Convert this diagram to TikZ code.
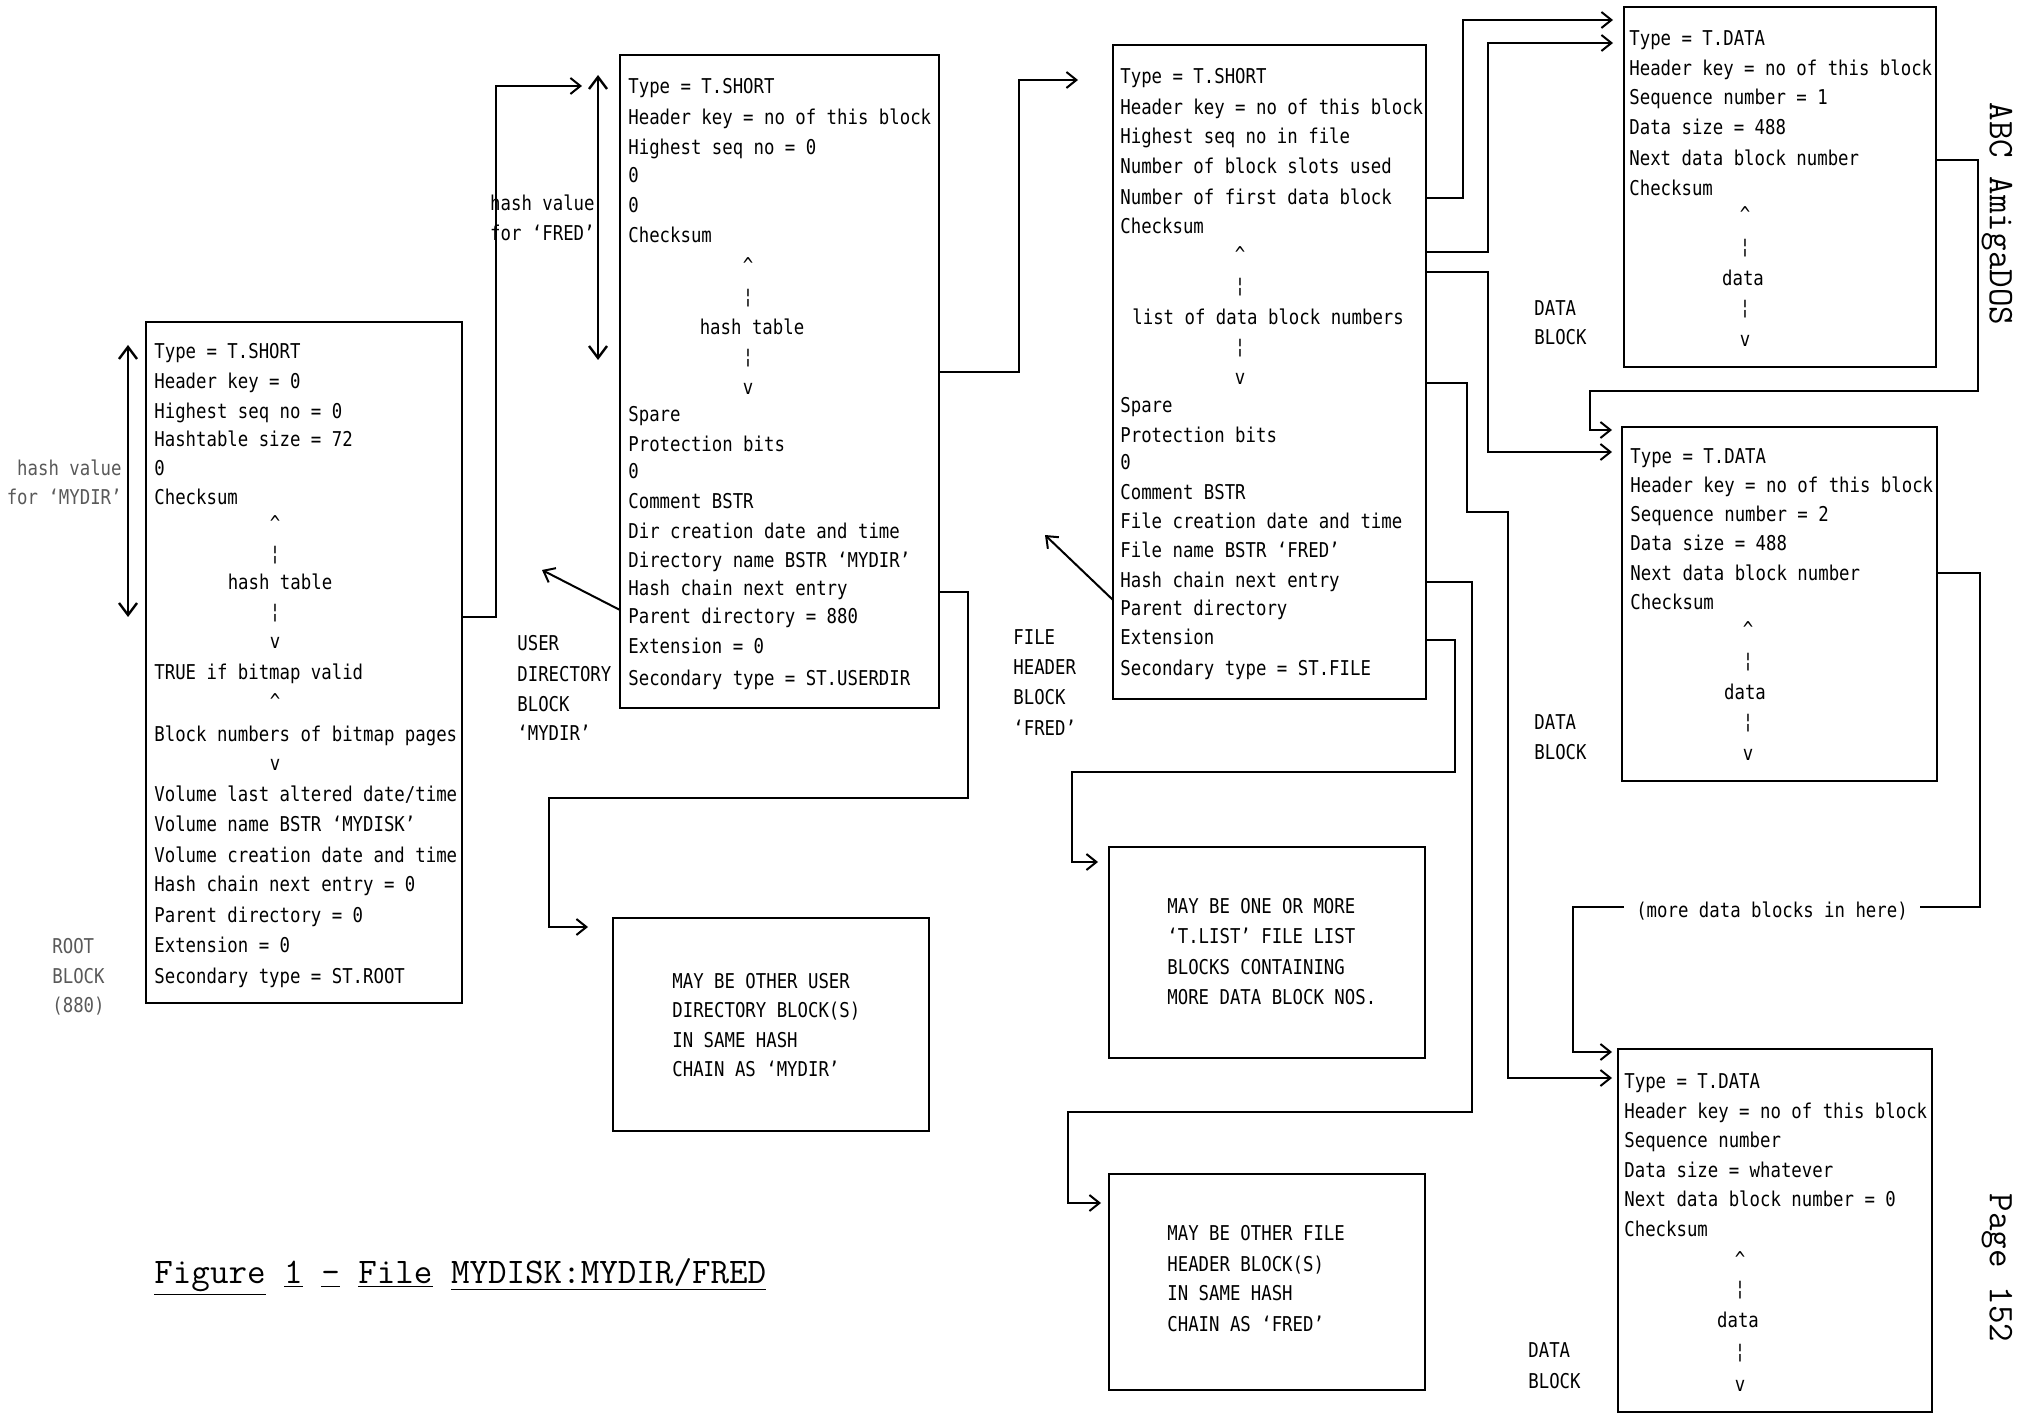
\documentclass[tikz,border=0pt]{standalone}
\usepackage{fontspec}
\usetikzlibrary{arrows.meta,calc}
\newfontfamily\dmfam[FakeStretch=0.85]{DejaVu Sans Mono}
\newcommand\dmf{\dmfam\fontsize{10.2}{12}\selectfont}
\newcommand\capf{\ttfamily\fontsize{18}{20}\selectfont}
\newcommand\Lrow[4]{\node[txt] (#1) at (#2,#3) {#4};}
\newcommand\Crow[4]{\node[ctxt] (#1) at (#2,#3) {#4};}
\newcommand\Up{\textasciicircum}
\tikzset{
  blk/.style={draw, line width=1.2pt, inner sep=0pt, outer sep=0pt, anchor=north west},
  txt/.style={font=\dmf, anchor=west, inner sep=0pt, text height=7.5pt, text depth=0pt},
  ctxt/.style={font=\dmf, anchor=center, inner sep=0pt, text height=7.5pt, text depth=0pt},
  rtxt/.style={font=\dmf, anchor=east, inner sep=0pt, text height=7.5pt, text depth=0pt},
  faded/.style={text=black!65},
  conn/.style={line width=1pt},
  arr/.style={line width=1pt, -{Straight Barb[length=5pt,width=8pt]}},
  darr/.style={line width=1.2pt, {Straight Barb[length=6pt,width=9pt]}-{Straight Barb[length=6pt,width=9pt]}},
}
\begin{document}
\begin{tikzpicture}[x=0.5pt,y=-0.5pt]
\useasboundingbox (0,0) rectangle (2018,1416);
\fill[white] (0,0) rectangle (2018,1416);

% ---------------- boxes
\node[blk, minimum width=158pt, minimum height=340.5pt] (root) at (146,322) {};
\node[blk, minimum width=159.5pt, minimum height=326.5pt] (user) at (620,55) {};
\node[blk, minimum width=156.5pt, minimum height=327pt] (fh) at (1113,45) {};
\node[blk, minimum width=156pt, minimum height=180pt] (db1) at (1624,7) {};
\node[blk, minimum width=157.5pt, minimum height=177pt] (db2) at (1622,427) {};
\node[blk, minimum width=157pt, minimum height=181.5pt] (db3) at (1618,1049) {};
\node[blk, minimum width=158pt, minimum height=106.5pt] (ouser) at (613,918) {};
\node[blk, minimum width=158pt, minimum height=105.5pt] (lst) at (1109,847) {};
\node[blk, minimum width=158pt, minimum height=108pt] (ofile) at (1109,1174) {};

% ---------------- root block
\Lrow{r1}{154}{351}{Type = T.SHORT}
\Lrow{r2}{154}{381}{Header key = 0}
\Lrow{r3}{154}{411}{Highest seq no = 0}
\Lrow{r4}{154}{439}{Hashtable size = 72}
\Lrow{r5}{154}{468}{0}
\Lrow{r6}{154}{497}{Checksum}
\Crow{r7}{275}{523}{\Up}
\Crow{r8}{275}{553}{¦}
\Crow{r9}{280}{582}{hash table}
\Crow{r10}{275}{611}{¦}
\Crow{r11}{275}{641}{v}
\Lrow{r12}{154}{672}{TRUE if bitmap valid}
\Crow{r13}{275}{701}{\Up}
\Lrow{r14}{154}{734}{Block numbers of bitmap pages}
\Crow{r15}{275}{763}{v}
\Lrow{r16}{154}{794}{Volume last altered date/time}
\Lrow{r17}{154}{824}{Volume name BSTR ‘MYDISK’}
\Lrow{r18}{154}{855}{Volume creation date and time}
\Lrow{r19}{154}{884}{Hash chain next entry = 0}
\Lrow{r20}{154}{915}{Parent directory = 0}
\Lrow{r21}{154}{945}{Extension = 0}
\Lrow{r22}{154}{976}{Secondary type = ST.ROOT}

\node[rtxt,faded] (hv1) at (122,468) {hash value};
\node[rtxt,faded] (hv2) at (122,497) {for ‘MYDIR’};
\node[txt,faded] (rb1) at (52,946) {ROOT};
\node[txt,faded] (rb2) at (52,976) {BLOCK};
\node[txt,faded] (rb3) at (52,1005) {(880)};
\coordinate (rht) at (128,345);
\coordinate (rhb) at (128,617);
\draw[darr] (rht) -- (rhb);

% ---------------- user directory block
\Lrow{u1}{628}{86}{Type = T.SHORT}
\Lrow{u2}{628}{117}{Header key = no of this block}
\Lrow{u3}{628}{147}{Highest seq no = 0}
\Lrow{u4}{628}{175}{0}
\Lrow{u5}{628}{205}{0}
\Lrow{u6}{628}{235}{Checksum}
\Crow{u7}{748}{265}{\Up}
\Crow{u8}{748}{296}{¦}
\Crow{u9}{752}{327}{hash table}
\Crow{u10}{748}{356}{¦}
\Crow{u11}{748}{387}{v}
\Lrow{u12}{628}{414}{Spare}
\Lrow{u13}{628}{444}{Protection bits}
\Lrow{u14}{628}{471}{0}
\Lrow{u15}{628}{501}{Comment BSTR}
\Lrow{u16}{628}{531}{Dir creation date and time}
\Lrow{u17}{628}{560}{Directory name BSTR ‘MYDIR’}
\Lrow{u18}{628}{588}{Hash chain next entry}
\Lrow{u19}{628}{616}{Parent directory = 880}
\Lrow{u20}{628}{646}{Extension = 0}
\Lrow{u21}{628}{678}{Secondary type = ST.USERDIR}

\node[rtxt] (hf1) at (595,203) {hash value};
\node[rtxt] (hf2) at (595,233) {for ‘FRED’};
\node[txt] (ub1) at (517,643) {USER};
\node[txt] (ub2) at (517,674) {DIRECTORY};
\node[txt] (ub3) at (517,704) {BLOCK};
\node[txt] (ub4) at (517,733) {‘MYDIR’};
\coordinate (uht) at (598,75);
\coordinate (uhb) at (598,360);
\draw[darr] (uht) -- (uhb);

% ---------------- file header block
\Lrow{f1}{1120}{76}{Type = T.SHORT}
\Lrow{f2}{1120}{107}{Header key = no of this block}
\Lrow{f3}{1120}{136}{Highest seq no in file}
\Lrow{f4}{1120}{166}{Number of block slots used}
\Lrow{f5}{1120}{197}{Number of first data block}
\Lrow{f6}{1120}{226}{Checksum}
\Crow{f7}{1240}{254}{\Up}
\Crow{f8}{1240}{285}{¦}
\Lrow{f9}{1132}{317}{list of data block numbers}
\Crow{f10}{1240}{346}{¦}
\Crow{f11}{1240}{377}{v}
\Lrow{f12}{1120}{405}{Spare}
\Lrow{f13}{1120}{435}{Protection bits}
\Lrow{f14}{1120}{462}{0}
\Lrow{f15}{1120}{492}{Comment BSTR}
\Lrow{f16}{1120}{521}{File creation date and time}
\Lrow{f17}{1120}{550}{File name BSTR ‘FRED’}
\Lrow{f18}{1120}{580}{Hash chain next entry}
\Lrow{f19}{1120}{608}{Parent directory}
\Lrow{f20}{1120}{637}{Extension}
\Lrow{f21}{1120}{668}{Secondary type = ST.FILE}

\node[txt] (fb1) at (1013,637) {FILE};
\node[txt] (fb2) at (1013,667) {HEADER};
\node[txt] (fb3) at (1013,697) {BLOCK};
\node[txt] (fb4) at (1013,728) {‘FRED’};

% ---------------- data block 1
\Lrow{a1}{1629}{38}{Type = T.DATA}
\Lrow{a2}{1629}{68}{Header key = no of this block}
\Lrow{a3}{1629}{97}{Sequence number = 1}
\Lrow{a4}{1629}{127}{Data size = 488}
\Lrow{a5}{1629}{158}{Next data block number}
\Lrow{a6}{1629}{188}{Checksum}
\Crow{a7}{1745}{214}{\Up}
\Crow{a8}{1745}{246}{¦}
\Crow{a9}{1743}{278}{data}
\Crow{a10}{1745}{307}{¦}
\Crow{a11}{1745}{339}{v}
\node[txt] (da1) at (1534,308) {DATA};
\node[txt] (da2) at (1534,337) {BLOCK};

% ---------------- data block 2
\Lrow{b1}{1630}{456}{Type = T.DATA}
\Lrow{b2}{1630}{485}{Header key = no of this block}
\Lrow{b3}{1630}{514}{Sequence number = 2}
\Lrow{b4}{1630}{543}{Data size = 488}
\Lrow{b5}{1630}{573}{Next data block number}
\Lrow{b6}{1630}{602}{Checksum}
\Crow{b7}{1748}{629}{\Up}
\Crow{b8}{1748}{660}{¦}
\Crow{b9}{1745}{692}{data}
\Crow{b10}{1748}{721}{¦}
\Crow{b11}{1748}{753}{v}
\node[txt] (db1l) at (1534,722) {DATA};
\node[txt] (db2l) at (1534,752) {BLOCK};

% ---------------- data block 3
\Lrow{c1}{1624}{1081}{Type = T.DATA}
\Lrow{c2}{1624}{1111}{Header key = no of this block}
\Lrow{c3}{1624}{1140}{Sequence number}
\Lrow{c4}{1624}{1170}{Data size = whatever}
\Lrow{c5}{1624}{1199}{Next data block number = 0}
\Lrow{c6}{1624}{1229}{Checksum}
\Crow{c7}{1740}{1259}{\Up}
\Crow{c8}{1740}{1288}{¦}
\Crow{c9}{1738}{1320}{data}
\Crow{c10}{1740}{1351}{¦}
\Crow{c11}{1740}{1384}{v}
\node[txt] (dc1) at (1528,1350) {DATA};
\node[txt] (dc2) at (1528,1381) {BLOCK};

% ---------------- note boxes
\Lrow{o1}{672}{981}{MAY BE OTHER USER}
\Lrow{o2}{672}{1010}{DIRECTORY BLOCK(S)}
\Lrow{o3}{672}{1040}{IN SAME HASH}
\Lrow{o4}{672}{1069}{CHAIN AS ‘MYDIR’}

\Lrow{l1}{1167}{906}{MAY BE ONE OR MORE}
\Lrow{l2}{1167}{936}{‘T.LIST’ FILE LIST}
\Lrow{l3}{1167}{967}{BLOCKS CONTAINING}
\Lrow{l4}{1167}{997}{MORE DATA BLOCK NOS.}

\Lrow{p1}{1167}{1233}{MAY BE OTHER FILE}
\Lrow{p2}{1167}{1264}{HEADER BLOCK(S)}
\Lrow{p3}{1167}{1293}{IN SAME HASH}
\Lrow{p4}{1167}{1324}{CHAIN AS ‘FRED’}

\node[ctxt, inner xsep=6pt] (more) at (1772,910) {(more data blocks in here)};

% ---------------- connectors
\draw[arr] (root.east |- 0,617) -- (496,617) -- (496,86) -- ($(user.west |- 0,86)+(-38,0)$);
\draw[arr] (user.east |- 0,372) -- (1019,372) -- (1019,80) -- ($(fh.west |- 0,80)+(-35,0)$);
\draw[arr] (user.east |- 0,592) -- (968,592) -- (968,798) -- (549,798) -- (549,927) -- ($(ouser.west |- 0,927)+(-25,0)$);
\coordinate (upar) at (542,570);
\draw[arr] (user.west |- 0,610) -- (upar);
\coordinate (fpar) at (1045,535);
\draw[arr] (fh.west |- 0,600) -- (fpar);

\draw[arr] (fh.east |- 0,198) -- (1463,198) -- (1463,20) -- ($(db1.west |- 0,20)+(-11,0)$);
\draw[arr] (fh.east |- 0,252) -- (1488,252) -- (1488,43) -- ($(db1.west |- 0,43)+(-11,0)$);
\draw[arr] (fh.east |- 0,272) -- (1488,272) -- (1488,452) -- ($(db2.west |- 0,452)+(-10,0)$);
\draw[arr] (fh.east |- 0,383) -- (1467,383) -- (1467,512) -- (1508,512) -- (1508,1078) -- ($(db3.west |- 0,1078)+(-6,0)$);
\draw[arr] (fh.east |- 0,582) -- (1472,582) -- (1472,1112) -- (1068,1112) -- (1068,1203) -- ($(ofile.west |- 0,1203)+(-8,0)$);
\draw[arr] (fh.east |- 0,640) -- (1455,640) -- (1455,772) -- (1072,772) -- (1072,862) -- ($(lst.west |- 0,862)+(-11,0)$);

\draw[arr] (db1.east |- 0,160) -- (1978,160) -- (1978,391) -- (1590,391) -- (1590,430) -- ($(db2.west |- 0,430)+(-10,0)$);
\draw[conn] (db2.east |- 0,573) -- (1980,573) -- (1980,907) -- (more.east |- 0,907);
\draw[arr] (more.west |- 0,907) -- (1573,907) -- (1573,1052) -- ($(db3.west |- 0,1052)+(-6,0)$);

% ---------------- caption and margin texts
\node[font=\capf, anchor=west, inner sep=0pt] (cap) at (154,1277)
  {\underline{Figure} \underline{1} \underline{-} \underline{File} \underline{MYDISK:MYDIR/FRED}};
\node[font=\capf, rotate=-90, inner sep=0pt] (abc) at (1997,214) {ABC AmigaDOS};
\node[font=\capf, rotate=-90, inner sep=0pt] (pg) at (1997,1268) {Page 152};
\end{tikzpicture}
\end{document}
